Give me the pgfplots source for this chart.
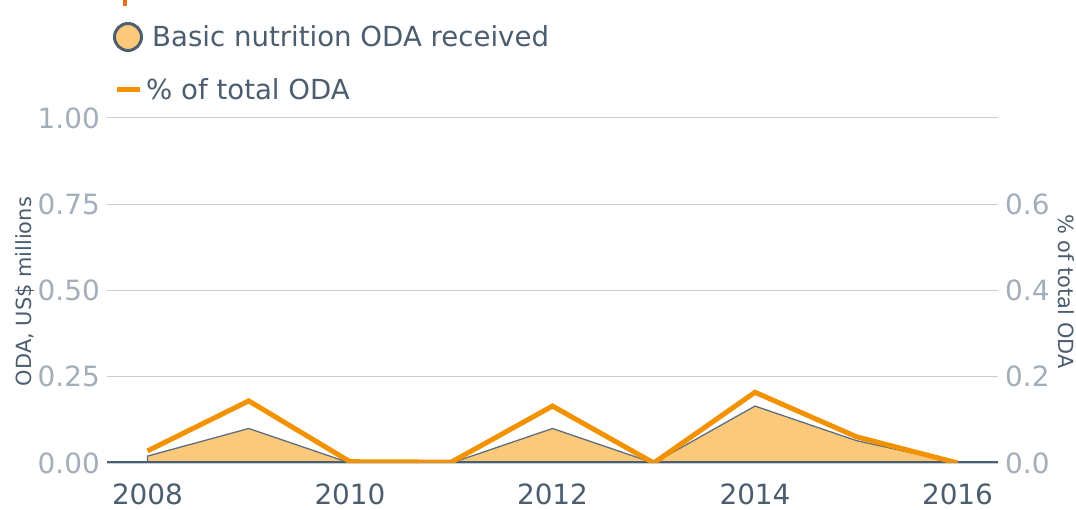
\documentclass[border=0pt]{standalone}
\usepackage{fontspec}
\setmainfont{DejaVu Sans}
\usepackage{pgfplots}
\pgfplotsset{compat=1.18}
\definecolor{Slate}{HTML}{4B5D6E}
\definecolor{TickGray}{HTML}{A3AEBB}
\definecolor{GridGray}{HTML}{C6CED7}
\definecolor{Orange}{HTML}{F39200}
\definecolor{Peach}{HTML}{FCC97B}
\definecolor{Edge}{HTML}{5E6E7E}
\definecolor{Rust}{HTML}{E2711D}
\pgfplotsset{
  base/.style={
    scale only axis,width=891bp,height=345bp,
    xmin=2007.6,xmax=2016.4,
    axis line style={draw=none},tick style={draw=none},
    /pgf/number format/assume math mode=true,
    ticklabel style={font=\fontsize{28}{33}\selectfont},
  }
}
\begin{document}
\begin{tikzpicture}
% left axis: ODA received
\begin{axis}[base,
  ymin=0,ymax=1,ytick={0,0.25,0.5,0.75,1},
  yticklabel style={text=TickGray,anchor=east,inner sep=0pt,xshift=-7bp,
    /pgf/number format/.cd,fixed,fixed zerofill,precision=2},
  xtick={2008,2010,2012,2014,2016},
  xticklabel style={text=Slate,anchor=north,inner sep=0pt,yshift=-21bp,
    /pgf/number format/.cd,1000 sep={}},
  ymajorgrids,grid style={GridGray,line width=1bp},
  ylabel={ODA, US\$ millions},
  every axis y label/.style={at={(axis description cs:-0.092,0.497)},rotate=90,anchor=center,
    font=\fontsize{21}{25}\selectfont,text=Slate},
]
\addplot[fill=Peach,draw=Edge,line width=1.3bp] coordinates {
  (2008,0.02) (2009,0.10) (2010,0) (2011,0) (2012,0.10)
  (2013,0) (2014,0.165) (2015,0.065) (2016,0)
} \closedcycle;
\draw[Slate,line width=3bp] (rel axis cs:0,0) -- (rel axis cs:1,0);
\end{axis}
% right axis: % of total ODA
\begin{axis}[base,
  ymin=0,ymax=0.8,ytick={0,0.2,0.4,0.6},
  yticklabel pos=right,
  yticklabel style={text=TickGray,anchor=west,inner sep=0pt,xshift=7bp,
    /pgf/number format/.cd,fixed,fixed zerofill,precision=1},
  xtick=\empty,
  ylabel={\% of total ODA},
  every axis y label/.style={at={(axis description cs:1.0763,0.497)},rotate=-90,anchor=center,
    font=\fontsize{21}{25}\selectfont,text=Slate},
]
\addplot[Orange,line width=5bp,line join=miter] coordinates {
  (2008,0.028) (2009,0.144) (2010,0.003) (2011,0.002) (2012,0.132)
  (2013,0) (2014,0.164) (2015,0.061) (2016,0)
};
\end{axis}
% legend
\draw[Rust,line width=4bp] (18bp,457bp) -- (18bp,464bp);
\draw[Slate,line width=3bp,fill=Peach] (21bp,426bp) circle (13.5bp);
\node[anchor=base west,inner sep=0pt,text=Slate,font=\fontsize{27.7}{32}\selectfont] at (45bp,416bp) {Basic nutrition ODA received};
\draw[Orange,line width=5bp] (10bp,373bp) -- (33bp,373bp);
\node[anchor=base west,inner sep=0pt,text=Slate,font=\fontsize{27.7}{32}\selectfont] at (39bp,363bp) {\% of total ODA};
\pgfresetboundingbox
\path[use as bounding box] (-107bp,-47bp) rectangle (969bp,463bp);
\end{tikzpicture}
\end{document}
